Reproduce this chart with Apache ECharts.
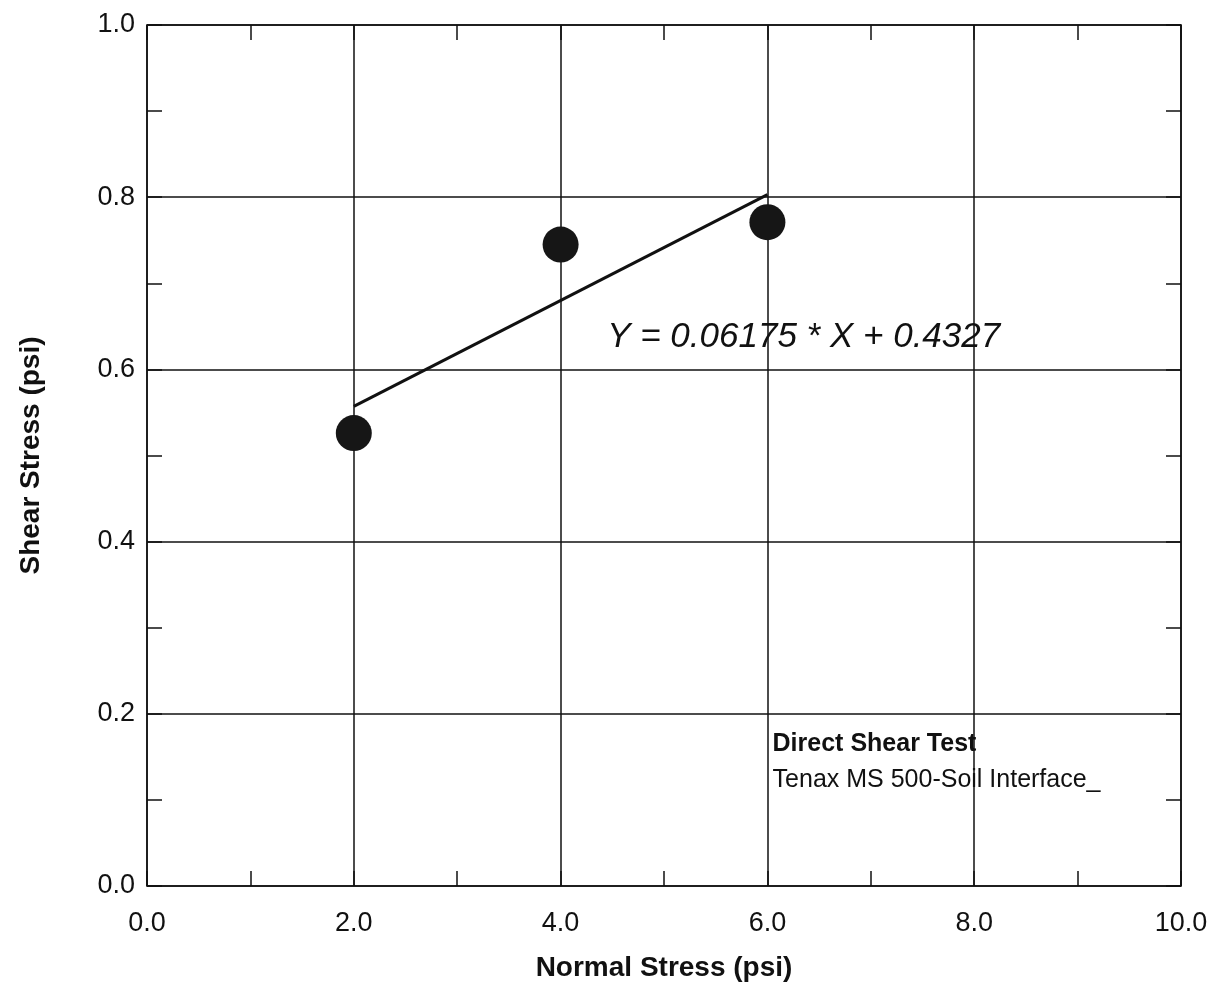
<!DOCTYPE html>
<html>
<head>
<meta charset="utf-8">
<script src="https://cdn.jsdelivr.net/npm/echarts@6/dist/echarts.min.js"></script>
<style>
  html, body { margin: 0; padding: 0; background: #fff; }
  #chart { width: 1212px; height: 992px; }
</style>
</head>
<body>
<div id="chart"></div>
<script>
// ===== data =====
const normalStress = [2.0, 4.0, 6.0];          // psi
const shearStress  = [0.526, 0.745, 0.771];    // psi
const fitX = [2.0, 6.0];
const fitY = [0.557, 0.803];                   // Y = 0.06175 * X + 0.4327
const xTicks = [0, 2, 4, 6, 8, 10];
const yTicks = [0, 0.2, 0.4, 0.6, 0.8, 1.0];
const equationText = 'Y = 0.06175 * X + 0.4327';
const noteTitle = 'Direct Shear Test';
const noteSub = 'Tenax MS 500-Soil Interface_';

const FONT = '"Liberation Sans", Arial, Helvetica, sans-serif';
const INK = '#111';

const chart = echarts.init(document.getElementById('chart'), null, { renderer: 'canvas' });

// shared axis styling; major ticks sit under the grid lines, minor ticks point inward
const axisBase = (min, max, interval) => ({
    type: 'value', min: min, max: max, interval: interval,
    axisLine: { show: true, onZero: false, lineStyle: { color: INK, width: 1.5 } },
    axisTick: { show: true, inside: true, length: 15, lineStyle: { color: INK, width: 1.5 } },
    minorTick: { show: true, splitNumber: 2, length: 15, lineStyle: { color: INK, width: 1.5 } }
});

// frame axes (top / right) only carry the minor ticks and the border line
const frameAxis = (pos, min, max, interval) => Object.assign(axisBase(min, max, interval), {
    position: pos,
    axisLabel: { show: false },
    splitLine: { show: false }
});

chart.setOption({
    backgroundColor: '#fff',
    animation: false,
    grid: { left: 147, right: 31, top: 25, bottom: 106 },
    xAxis: [Object.assign(axisBase(xTicks[0], xTicks[xTicks.length - 1], 2), {
        position: 'bottom',
        name: 'Normal Stress (psi)', nameLocation: 'middle', nameGap: 68,
        nameTextStyle: { fontFamily: FONT, fontWeight: 'bold', fontSize: 28, color: INK },
        axisLabel: { fontFamily: FONT, fontSize: 27, color: INK, margin: 24,
            formatter: v => v.toFixed(1) },
        splitLine: { show: true, lineStyle: { color: INK, width: 1.5 } }
    }), frameAxis('top', 0, 10, 2)],
    yAxis: [Object.assign(axisBase(yTicks[0], yTicks[yTicks.length - 1], 0.2), {
        position: 'left',
        name: 'Shear Stress (psi)', nameLocation: 'middle', nameGap: 102,
        nameTextStyle: { fontFamily: FONT, fontWeight: 'bold', fontSize: 28, color: INK },
        axisLabel: { fontFamily: FONT, fontSize: 27, color: INK, margin: 12,
            formatter: v => v.toFixed(1) },
        splitLine: { show: true, lineStyle: { color: INK, width: 1.5 } }
    }), frameAxis('right', 0, 1, 0.2)],
    series: [
        {
            type: 'line',
            data: fitX.map((x, i) => [x, fitY[i]]),
            symbol: 'none',
            lineStyle: { color: INK, width: 3 },
            z: 3
        },
        {
            type: 'scatter',
            data: normalStress.map((x, i) => [x, shearStress[i]]),
            symbol: 'circle',
            symbolSize: 36,
            itemStyle: { color: '#161616', opacity: 1 },
            z: 4
        },
        {
            // text annotations anchored to data coordinates
            type: 'scatter',
            symbolSize: 0,
            silent: true,
            itemStyle: { opacity: 1 },
            data: [
                { value: [4.45, 0.637], label: { show: true, position: 'right', distance: 0,
                    formatter: equationText, fontFamily: FONT, fontStyle: 'italic',
                    fontSize: 35, color: INK, opacity: 1 } },
                { value: [6.05, 0.144], label: { show: true, position: 'right', distance: 0,
                    formatter: '{b|' + noteTitle + '}\n{n|' + noteSub + '}',
                    opacity: 1,
                    rich: {
                        b: { fontFamily: FONT, fontWeight: 'bold', fontSize: 25, color: INK, lineHeight: 36 },
                        n: { fontFamily: FONT, fontSize: 25, color: INK, lineHeight: 36 }
                    } } }
            ],
            z: 5
        }
    ]
});
</script>
</body>
</html>
